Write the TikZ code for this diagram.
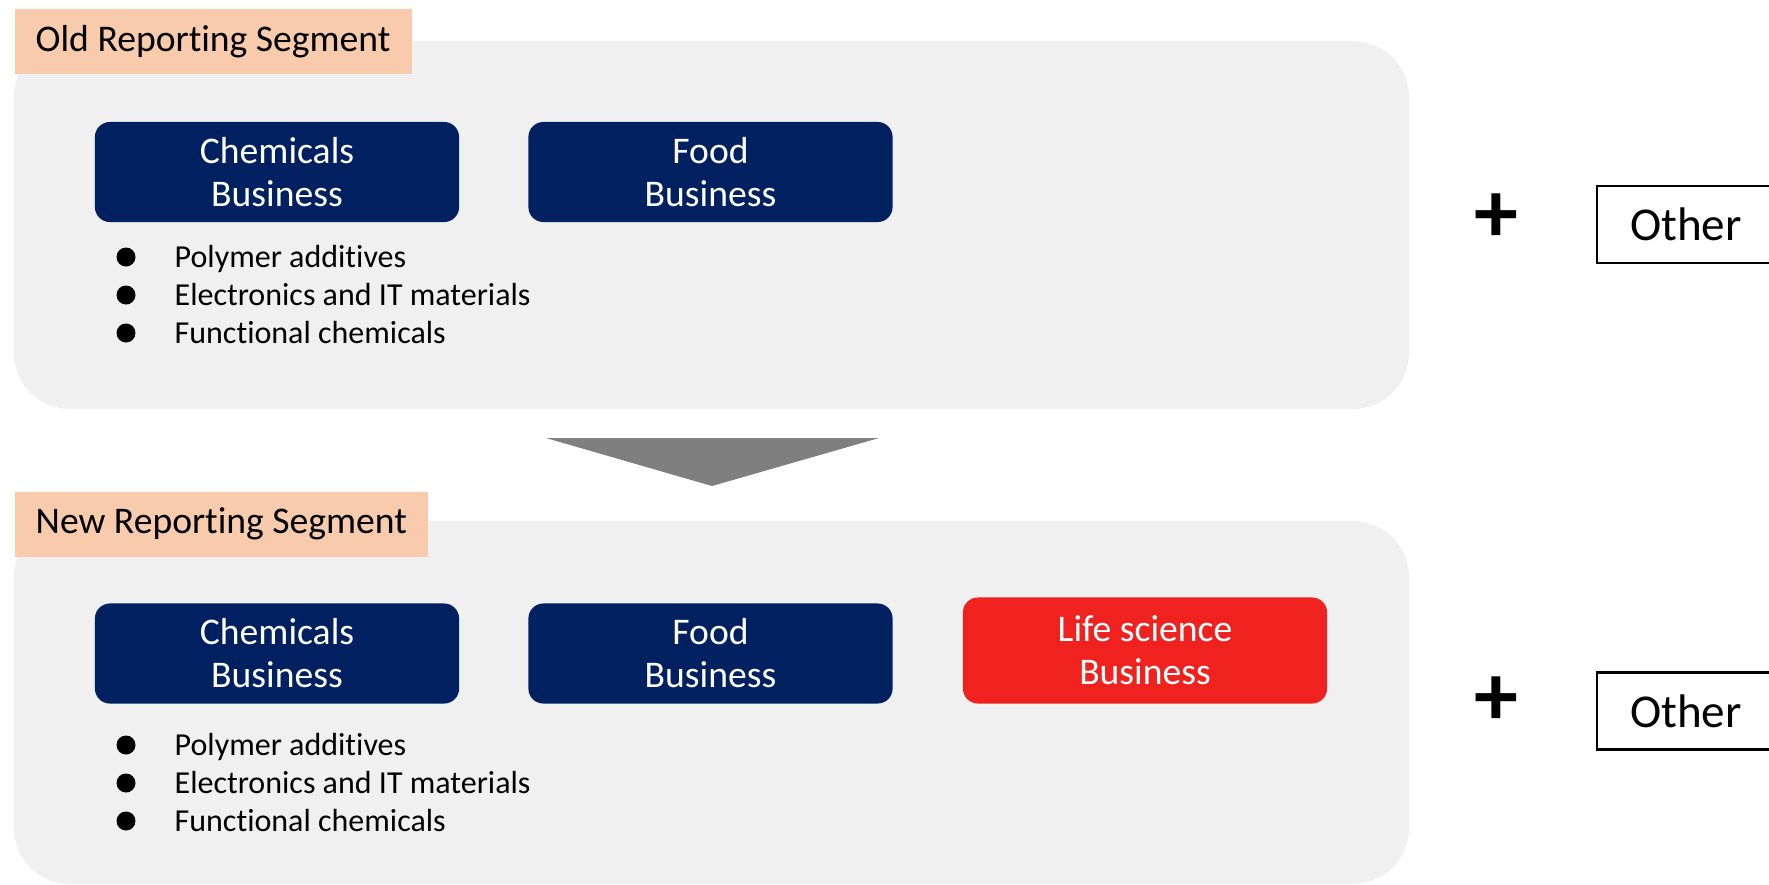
\documentclass[tikz,border=0pt]{standalone}
\usepackage{fontspec}
\setmainfont{Carlito}[Ligatures=NoCommon]
\definecolor{navy}{HTML}{002060}
\definecolor{lifered}{HTML}{EF2220}
\definecolor{peach}{HTML}{F8CBAD}
\definecolor{panelgray}{HTML}{F0F0F0}
\definecolor{arrowgray}{HTML}{7F7F7F}
\begin{document}
\begin{tikzpicture}[x=0.01cm,y=-0.01cm,
    panel/.style={fill=panelgray, rounded corners=0.56cm},
    seglabel/.style={fill=peach, anchor=north west, inner xsep=0.21cm,
      minimum height=0.65cm, font=\fontsize{10.7}{13}\selectfont},
    biz/.style={fill=navy, text=white, rounded corners=0.15cm, align=center,
      minimum width=3.64cm, minimum height=1.0cm, inner sep=0pt,
      font=\fontsize{10.7}{12.2}\selectfont},
    item/.style={anchor=base west, inner sep=0pt, font=\fontsize{9.1}{10}\selectfont},
    otherbox/.style={draw, line width=0.8pt, minimum width=1.78cm, minimum height=0.77cm,
      font=\fontsize{13.4}{15}\selectfont},
    plus/.style={font=\fontsize{25}{30}\selectfont\bfseries}]
  \useasboundingbox (0,0) rectangle (1769,884);

  % old segment
  \fill[panel] (14,41) rectangle (1409,409);
  \node[seglabel] (oldlbl) at (14,8) {Old Reporting Segment};
  \node[biz] (oldchem) at (277,172) {Chemicals\\Business};
  \node[biz] (oldfood) at (710.5,172) {Food\\Business};
  \foreach \y/\t [count=\i] in {257/Polymer additives,
                                295/Electronics and IT materials,
                                333/Functional chemicals} {
    \fill (126,\y) circle (9.5);
    \node[item] (olditem\i) at (174,\y+10) {\t};
  }
  \node[plus] (oldplus) at (1496,218) {+};
  \node[otherbox] (oldother) at (1686,224.5) {Other};

  % arrow
  \fill[arrowgray] (546,438) -- (879,438) -- (712,486) -- cycle;

  % new segment
  \fill[panel] (14,521) rectangle (1409,884);
  \node[seglabel] (newlbl) at (14,491) {New Reporting Segment};
  \node[biz] (newchem) at (277,653.5) {Chemicals\\Business};
  \node[biz] (newfood) at (710.5,653.5) {Food\\Business};
  \node[biz, fill=lifered, minimum height=1.06cm] (newlife) at (1145,650.5) {Life science\\Business};
  \foreach \y/\t [count=\i] in {745/Polymer additives,
                                783/Electronics and IT materials,
                                821/Functional chemicals} {
    \fill (126,\y) circle (9.5);
    \node[item] (newitem\i) at (174,\y+10) {\t};
  }
  \node[plus] (newplus) at (1496,701) {+};
  \node[otherbox] (newother) at (1686,711) {Other};
\end{tikzpicture}
\end{document}
